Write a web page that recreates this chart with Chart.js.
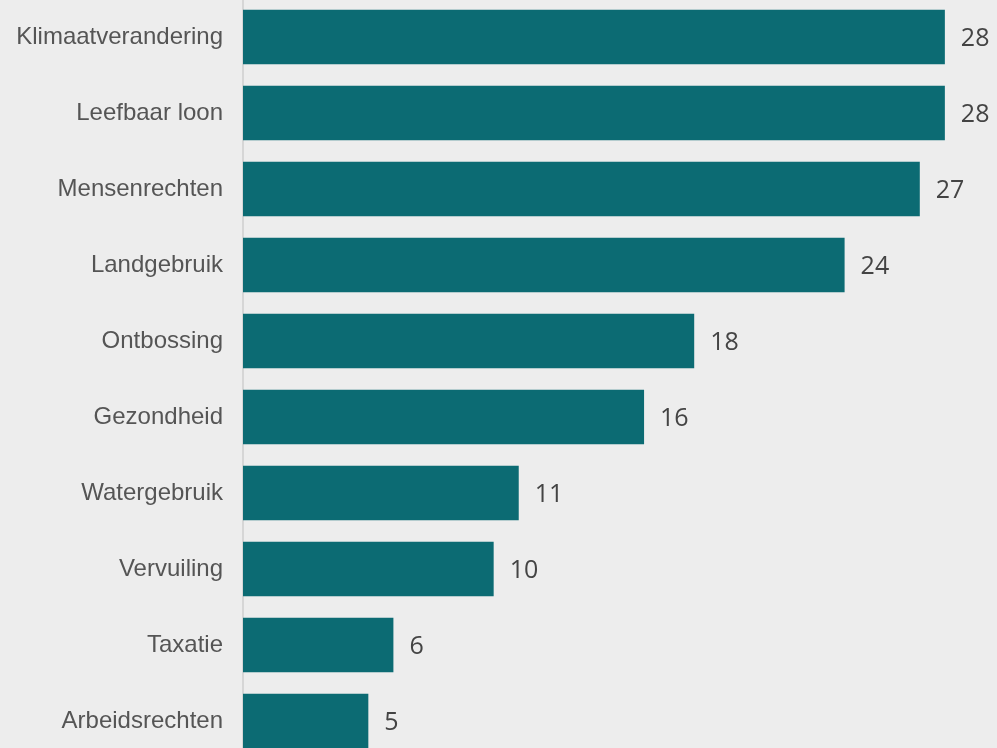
<!DOCTYPE html>
<html>
<head>
  <title>Thema's</title>
  <script src="https://cdn.jsdelivr.net/npm/chart.js@4.4.0/dist/chart.umd.min.js"></script>
  <style>
    html, body {
      margin: 0;
      padding: 0;
      width: 997px;
      height: 748px;
      overflow: hidden;
      background: #ededed;
    }
    #wrap {
      position: absolute;
      left: 0;
      top: -1px;
      width: 997px;
      height: 760px;
    }
  </style>
</head>
<body>
  <div id="wrap">
    <canvas id="themaChart"></canvas>
  </div>

  <script>
    // Thema's en aantallen
    const categories = ['Klimaatverandering', 'Leefbaar loon', 'Mensenrechten', 'Landgebruik', 'Ontbossing',
      'Gezondheid', 'Watergebruik', 'Vervuiling', 'Taxatie', 'Arbeidsrechten'];
    const values = [28, 28, 27, 24, 18, 16, 11, 10, 6, 5];

    // Getallen naast de balken
    const valueLabels = {
      id: 'valueLabels',
      afterDatasetsDraw(chart) {
        const ctx = chart.ctx;
        const meta = chart.getDatasetMeta(0);
        ctx.save();
        ctx.font = '25px "Open Sans"';
        ctx.fillStyle = '#444444';
        ctx.textAlign = 'left';
        ctx.textBaseline = 'middle';
        meta.data.forEach(function (bar, i) {
          ctx.fillText(String(values[i]), bar.x + 16, bar.y + 2);
        });
        ctx.restore();
      }
    };

    const config = {
      type: 'bar',
      data: {
        labels: categories,
        datasets: [{
          data: values,
          backgroundColor: '#0c6b73',
          borderWidth: 0,
          categoryPercentage: 1,
          barPercentage: 0.72
        }]
      },
      options: {
        indexAxis: 'y',
        responsive: true,
        maintainAspectRatio: false,
        animation: false,
        layout: { padding: { left: 0, right: 2, top: 0, bottom: 0 } },
        plugins: {
          legend: { display: false },
          tooltip: { enabled: false }
        },
        scales: {
          x: {
            display: false,
            min: 0,
            max: 30
          },
          y: {
            grid: { display: false, drawTicks: false },
            border: { display: true, color: '#d6d6d6', width: 2 },
            ticks: {
              padding: 20,
              color: '#555555',
              font: { family: '"Liberation Sans", Arial, sans-serif', size: 24 }
            },
            afterFit(scale) {
              // vaste breedte, geen extra ruimte boven/onder
              scale.width = 243;
              scale.paddingTop = 0;
              scale.paddingBottom = 0;
            }
          }
        }
      },
      plugins: [valueLabels]
    };

    const themaChart = new Chart(document.getElementById('themaChart'), config);
  </script>
</body>
</html>
